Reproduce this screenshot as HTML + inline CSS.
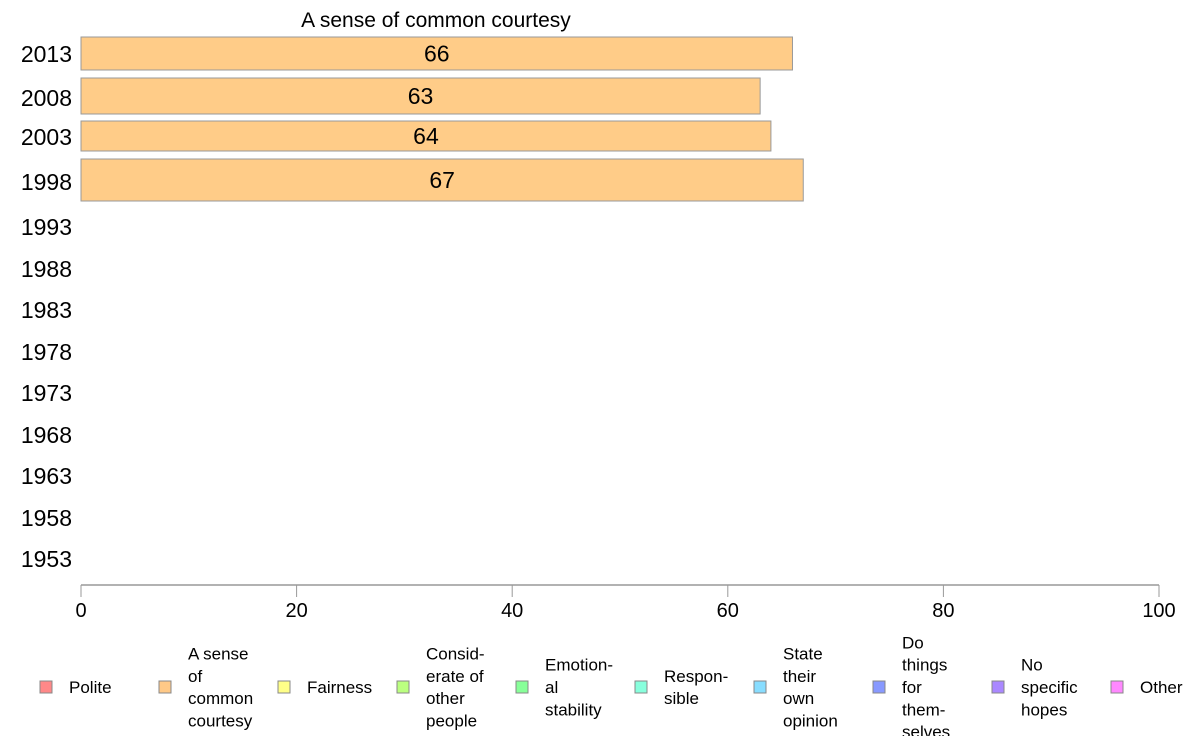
<!DOCTYPE html>
<html><head><meta charset="utf-8">
<style>
body{margin:0;background:#fff;font-family:"Liberation Sans",sans-serif;}
svg text{font-family:"Liberation Sans",sans-serif;}
</style></head>
<body>
<svg width="1188" height="736" viewBox="0 0 1188 736">
<text x="436" y="27" font-size="21" text-anchor="middle">A sense of common courtesy</text>
<g id="years"></g>
<g id="bars"></g>
<g id="axis"></g>
<g id="legend"></g>
</svg>
<script>
const years=["2013","2008","2003","1998","1993","1988","1983","1978","1973","1968","1963","1958","1953"];
const values=[66,63,64,67,null,null,null,null,null,null,null,null,null];
const ticks=[0,20,40,60,80,100];
const legendLabels=[["Polite"],["A sense","of","common","courtesy"],["Fairness"],["Consid-","erate of","other","people"],["Emotion-","al","stability"],["Respon-","sible"],["State","their","own","opinion"],["Do","things","for","them-","selves"],["No","specific","hopes"],["Other"]];
const legendColors=["#ff8888","#ffc987","#ffff88","#bbff80","#88ff99","#88ffdd","#88ddff","#8899ff","#aa88ff","#ff88ff"];
const NS="http://www.w3.org/2000/svg";
const x0=81,x1=1159;
function xs(v){return x0+(x1-x0)*v/100;}
// band layout per row (top,bottom) – top rows are bars, lower rows label only
const rowTop=[37,78,121,159];
const rowBot=[70,114,151,201];
const labelY=[62,106,145,190,235,277,318,360,401,443,484,526,567];
function mk(tag,attrs,parent){const e=document.createElementNS(NS,tag);for(const k in attrs)e.setAttribute(k,attrs[k]);parent.appendChild(e);return e;}
const gy=document.getElementById('years'),gb=document.getElementById('bars'),ga=document.getElementById('axis'),gl=document.getElementById('legend');
years.forEach((y,i)=>{
 const t=mk('text',{x:72,y:labelY[i],'font-size':23,'text-anchor':'end'},gy);t.textContent=y;
 
 
 const v=values[i];
 if(v!=null&&i<rowTop.length){
  const r=mk('rect',{x:x0,y:rowTop[i],width:xs(v)-x0,height:rowBot[i]-rowTop[i],fill:'#ffcc88',stroke:'#999','stroke-width':1},gb);
  
  
  const lt=mk('text',{x:(x0+xs(v))/2,y:(rowTop[i]+rowBot[i])/2+8,'font-size':23,'text-anchor':'middle'},gb);
  lt.textContent=v;
  
  
 }
});
const al=mk('line',{x1:x0,x2:x1,y1:585,y2:585,stroke:'#999','stroke-width':1.5},ga);


ticks.forEach(tv=>{
 const l=mk('line',{x1:xs(tv),x2:xs(tv),y1:585,y2:597,stroke:'#999'},ga);
 
 
 const t=mk('text',{x:xs(tv),y:617,'font-size':20,'text-anchor':'middle'},ga);
 t.textContent=tv;
 
 
});
legendLabels.forEach((lines,i)=>{
 const sx=40+119*i;
 const g=mk('g',{},gl);
 
 
 const r=mk('rect',{x:sx,y:681,width:12,height:12,fill:legendColors[i],stroke:'#888','stroke-width':1},g);
 
 
 const n=lines.length,lh=22.3;
 lines.forEach((ln,j)=>{
  const t=mk('text',{x:sx+29,y:687+6+(j-(n-1)/2)*lh,'font-size':17},g);
  t.textContent=ln;
  
  
 });
});
</script>
</body></html>
